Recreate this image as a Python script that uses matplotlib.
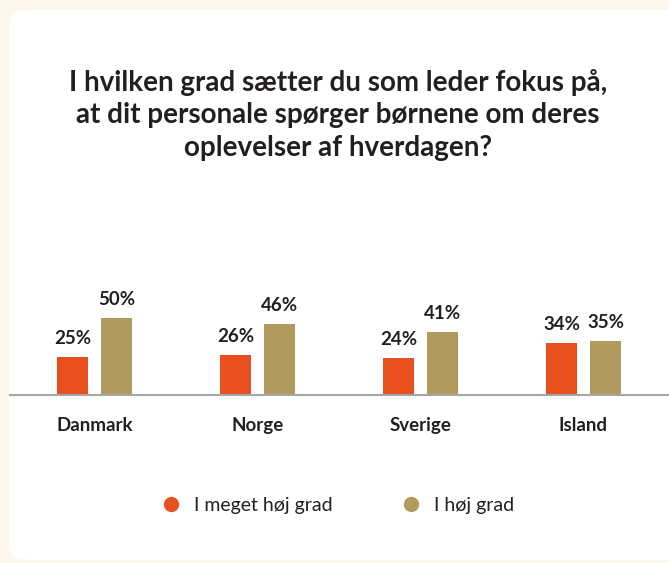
import matplotlib.pyplot as plt
from matplotlib.patches import FancyBboxPatch
from matplotlib.lines import Line2D

# Data
countries = ['Danmark', 'Norge', 'Sverige', 'Island']
meget_hoj = [25, 26, 24, 34]
hoj = [50, 46, 41, 35]
series_names = ['I meget høj grad', 'I høj grad']

title = ('I hvilken grad sætter du som leder fokus på,\n'
         'at dit personale spørger børnene om deres\n'
         'oplevelser af hverdagen?')

orange = '#e8501f'
tan = '#b09a5c'
dark = '#231f20'
W, H = 669, 563

plt.rcParams['font.family'] = ['Lato', 'DejaVu Sans']

fig = plt.figure(figsize=(W / 100, H / 100), dpi=100)
fig.patch.set_facecolor('#fdf6ea')

# white card
card = FancyBboxPatch((9 / W, 3 / H), 700 / W, (H - 13) / H,
                      boxstyle='round,pad=0,rounding_size=0.025',
                      transform=fig.transFigure, facecolor='white',
                      edgecolor='none', mutation_aspect=W / H, zorder=-10)
fig.add_artist(card)

fig.text(338 / W, 1 - 115 / H, title, ha='center', va='center',
         fontsize=20, fontweight='bold', color=dark, linespacing=1.3)

# bar axes: baseline at y=395 px
ax = fig.add_axes([10 / W, 1 - 395 / H, (W - 10) / W, 145 / H])
ax.patch.set_alpha(0)
x = range(len(countries))
off = 22 / 163
bw = 31 / 163
b1 = ax.bar([i - off for i in x], meget_hoj, bw, color=orange)
b2 = ax.bar([i + off for i in x], hoj, bw, color=tan)
for bars, vals in ((b1, meget_hoj), (b2, hoj)):
    for b, v in zip(bars, vals):
        ax.annotate(f'{v}%', (b.get_x() + b.get_width() / 2, v),
                    xytext=(0, 7), textcoords='offset points',
                    ha='center', va='bottom', fontsize=13.5,
                    fontweight='bold', color=dark)

ax.set_xlim(-84.5 / 163, (W - 10 - 84.5) / 163)
ax.set_ylim(0, 145 / 1.54)
ax.set_xticks(list(x))
ax.set_xticklabels(countries, fontsize=13.5, fontweight='bold', color=dark)
ax.tick_params(axis='x', length=0, pad=16)
ax.set_yticks([])
for s in ('top', 'right', 'left'):
    ax.spines[s].set_visible(False)
ax.spines['bottom'].set_color('#a6a6a6')
ax.spines['bottom'].set_linewidth(1.5)

handles = [Line2D([], [], marker='o', linestyle='none', markersize=11,
                  markerfacecolor=c, markeredgecolor='none')
           for c in (orange, tan)]
fig.legend(handles, series_names, loc='center', ncol=2,
           bbox_to_anchor=(333 / W, 1 - 505 / H), frameon=False,
           fontsize=14, handletextpad=0.2, columnspacing=3.0,
           labelcolor=dark)

fig.savefig('out.png', dpi=100, facecolor=fig.get_facecolor())
